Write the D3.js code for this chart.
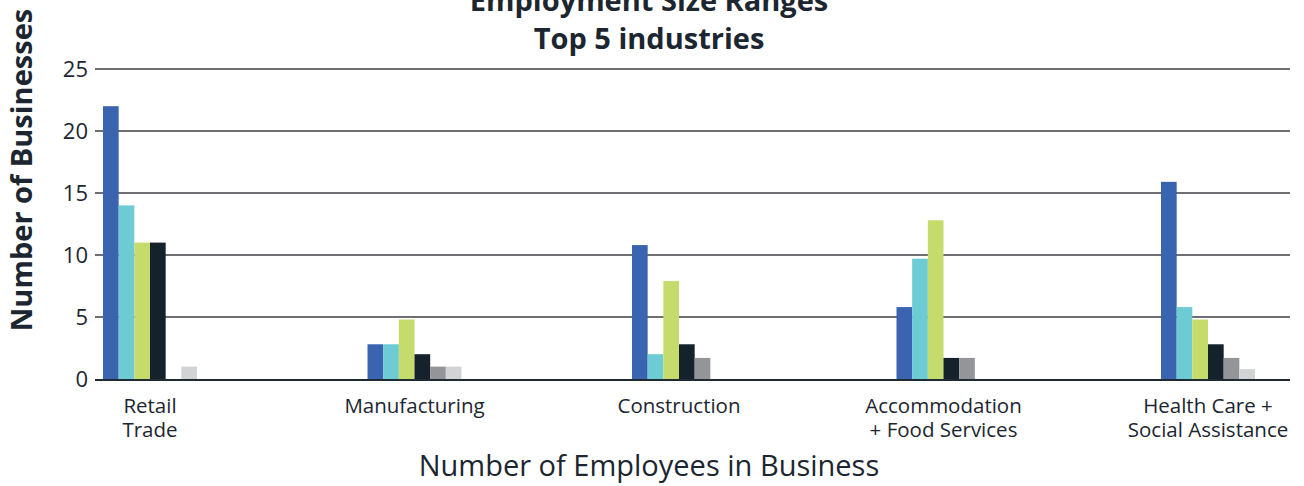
<!DOCTYPE html>
<html>
<head>
<meta charset="utf-8">
<script src="https://cdn.jsdelivr.net/npm/d3@7"></script>
<style>
  body { margin: 0; background: #fff; }
  text { font-family: "Open Sans", sans-serif; fill: #1c2630; }
</style>
</head>
<body>
<div class="chart"></div>
<script>
// Employment size ranges, top 5 industries
var width = 1304;
var height = 486;

var industries = ["Retail Trade", "Manufacturing", "Construction", "Accommodation + Food Services", "Health Care + Social Assistance"];
var industryLines = [["Retail", "Trade"], ["Manufacturing"], ["Construction"], ["Accommodation", "+ Food Services"], ["Health Care +", "Social Assistance"]];
var sizeRanges = ["s1", "s2", "s3", "s4", "s5", "s6"];
var sizeColors = ["#3a64b0", "#6ccbd3", "#c5dc6c", "#15212b", "#939598", "#d1d3d4"];

// one array per employee size range, values per industry
var s1 = [22, 2.8, 10.8, 5.8, 15.9];
var s2 = [14, 2.8, 2, 9.7, 5.8];
var s3 = [11, 4.8, 7.9, 12.8, 4.8];
var s4 = [11, 2, 2.8, 1.7, 2.8];
var s5 = [0, 1, 1.7, 1.7, 1.7];
var s6 = [1, 1, 0, 0, 0.8];
var seriesValues = [s1, s2, s3, s4, s5, s6];

var yTicks = [0, 5, 10, 15, 20, 25];

var gridLeft = 95, gridRight = 1290;

var svg = d3.select(".chart")
    .append("svg")
    .attr("width", width)
    .attr("height", height);

var y = d3.scaleLinear()
    .domain([0, 25])
    .range([379, 69]);

var x0 = d3.scalePoint()
    .domain(industries)
    .range([150, 1208]);

var x1 = d3.scaleBand()
    .domain(sizeRanges)
    .range([-47, 47]);

// gridlines
svg.selectAll(".grid")
    .data(yTicks.filter(function (t) { return t > 0; }))
    .enter()
    .append("line")
    .attr("class", "grid")
    .attr("x1", gridLeft)
    .attr("x2", gridRight)
    .attr("y1", function (d) { return y(d); })
    .attr("y2", function (d) { return y(d); })
    .style("stroke", "#6d6f72")
    .style("stroke-width", 2);

svg.selectAll(".ytick")
    .data(yTicks)
    .enter()
    .append("text")
    .attr("class", "ytick")
    .attr("x", 88)
    .attr("y", function (d) { return y(d); })
    .attr("dy", "0.36em")
    .attr("text-anchor", "end")
    .style("font-size", "22px")
    .text(function (d) { return d; });

// bars
var groups = svg.selectAll(".group")
    .data(industries)
    .enter()
    .append("g")
    .attr("class", "group")
    .attr("transform", function (d) { return "translate(" + x0(d) + ",0)"; });

groups.selectAll("rect")
    .data(function (d, i) {
        return sizeRanges.map(function (s, j) {
            return { key: s, value: seriesValues[j][i], color: sizeColors[j] };
        });
    })
    .enter()
    .append("rect")
    .attr("x", function (d) { return x1(d.key); })
    .attr("width", x1.bandwidth())
    .attr("y", function (d) { return y(d.value); })
    .attr("height", function (d) { return y(0) - y(d.value) + 1; })
    .style("fill", function (d) { return d.color; });

// baseline
svg.append("line")
    .attr("x1", gridLeft)
    .attr("x2", gridRight)
    .attr("y1", 380)
    .attr("y2", 380)
    .style("stroke", "#1f2a33")
    .style("stroke-width", 2);

// category labels, one text per line
industries.forEach(function (ind, i) {
    industryLines[i].forEach(function (line, k) {
        svg.append("text")
            .attr("text-anchor", "middle")
            .attr("x", x0(ind))
            .attr("y", 413 + k * 24)
            .style("font-size", "20.5px")
            .text(line);
    });
});

// titles
svg.append("text")
    .attr("x", 649)
    .attr("y", 11)
    .attr("text-anchor", "middle")
    .style("font-size", "29px")
    .style("font-weight", "bold")
    .text("Employment Size Ranges");

svg.append("text")
    .attr("x", 649)
    .attr("y", 49)
    .attr("text-anchor", "middle")
    .style("font-size", "29px")
    .style("font-weight", "bold")
    .text("Top 5 industries");

svg.append("text")
    .attr("transform", "translate(32,170) rotate(-90)")
    .attr("text-anchor", "middle")
    .style("font-size", "29px")
    .style("font-weight", "bold")
    .text("Number of Businesses");

svg.append("text")
    .attr("x", 649)
    .attr("y", 476)
    .attr("text-anchor", "middle")
    .style("font-size", "29px")
    .text("Number of Employees in Business");
</script>
</body>
</html>
